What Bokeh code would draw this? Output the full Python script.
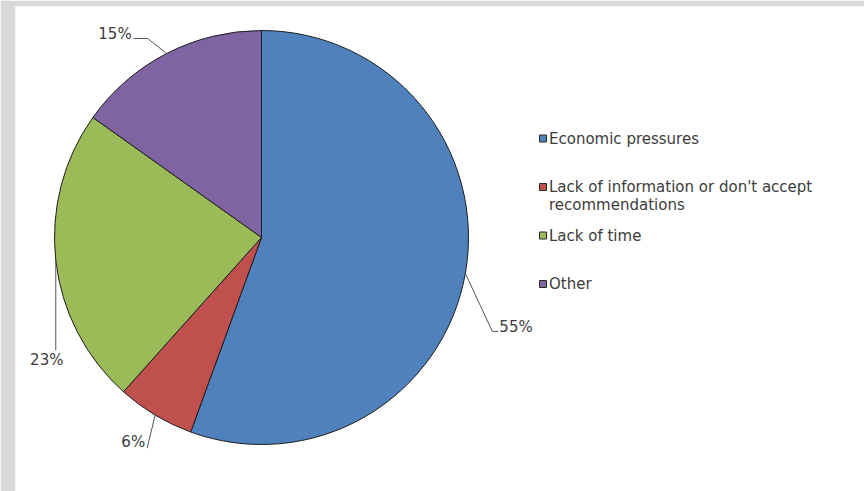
import math
from bokeh.plotting import figure
from bokeh.models import Range1d, ColumnDataSource
from bokeh.embed import file_html
from bokeh.resources import INLINE
from bokeh.core.properties import value

# ---- data ----
categories = ["Economic pressures",
              "Lack of information or don't accept recommendations",
              "Lack of time",
              "Other"]
values = [55, 6, 23, 15]
legend_lines = [["Economic pressures"],
                ["Lack of information or don't accept", "recommendations"],
                ["Lack of time"],
                ["Other"]]
colors = ["#4F81BD", "#C0504D", "#9BBB59", "#8064A2"]

# ---- layout ----
W, H = 864, 491
LEFT, TOP = 15, 6
CX, CY, R = 261, 237, 207          # pie centre / radius in screen pixels
FONT = value("DejaVu Sans")
TXT = "#3c3c3c"

def fy(py):
    return H - py

p = figure(width=W, height=H, output_backend="svg", toolbar_location=None,
           x_range=Range1d(LEFT, W), y_range=Range1d(0, H - TOP),
           x_axis_location=None, y_axis_location=None,
           min_border=0, min_border_left=LEFT, min_border_top=TOP,
           min_border_right=0, min_border_bottom=0)
p.grid.visible = False
p.outline_line_color = None
p.border_fill_color = "#d9d9d9"
p.background_fill_color = "white"

total = float(sum(values))
starts, ends, mids = [], [], []
cum = 0.0
for v in values:
    a0 = math.pi / 2 - 2 * math.pi * cum / total
    cum += v
    a1 = math.pi / 2 - 2 * math.pi * cum / total
    starts.append(a0)
    ends.append(a1)
    mids.append((a0 + a1) / 2)

src = ColumnDataSource(dict(x=[CX] * len(values), y=[fy(CY)] * len(values),
                            start=starts, end=ends, color=colors))
p.wedge(x="x", y="y", radius=R, start_angle="start", end_angle="end",
        direction="clock", fill_color="color", line_color="#1e1e1e",
        line_width=1, source=src)

# ---- data labels with leader lines ----
# leader geometry per slice (screen-pixel offsets), text alignment
leaders = [
    dict(path=[(27, 58), (33, 58)], txt=(34, 54), align="left"),
    dict(path=[(-8, 33)], txt=(-10, 27), align="right"),
    dict(path=[(0, 90)], txt=(-9, 100), align="center"),
    dict(path=[(-19, -15), (-33, -15)], txt=(-35, -20), align="right"),
]
for v, m, ld in zip(values, mids, leaders):
    ax = CX + R * math.cos(m)
    ay = CY - R * math.sin(m)
    xs = [ax] + [ax + dx for dx, dy in ld["path"]]
    ys = [fy(ay)] + [fy(ay + dy) for dx, dy in ld["path"]]
    p.line(xs, ys, line_color="#555555", line_width=1)
    tx, ty = ax + ld["txt"][0], ay + ld["txt"][1]
    p.text([tx], [fy(ty)], text=[f"{v}%"], text_font=FONT,
           text_font_size="15px", text_color=TXT, text_align=ld["align"],
           text_baseline="middle")

# ---- legend ----
LX, LY0, LSTEP, LINE_H = 542.5, 138, 48.5, 18
for i, (lines, c) in enumerate(zip(legend_lines, colors)):
    y = LY0 + LSTEP * i
    p.rect([LX], [fy(y)], width=7, height=7, width_units="screen",
           height_units="screen", fill_color=c, line_color="#2a2a2a",
           line_width=1)
    for j, t in enumerate(lines):
        p.text([LX + 6], [fy(y + LINE_H * j)], text=[t], text_font=FONT,
               text_font_size="15px", text_color=TXT, text_align="left",
               text_baseline="middle")

open("out.html", "w").write(file_html(p, INLINE))
